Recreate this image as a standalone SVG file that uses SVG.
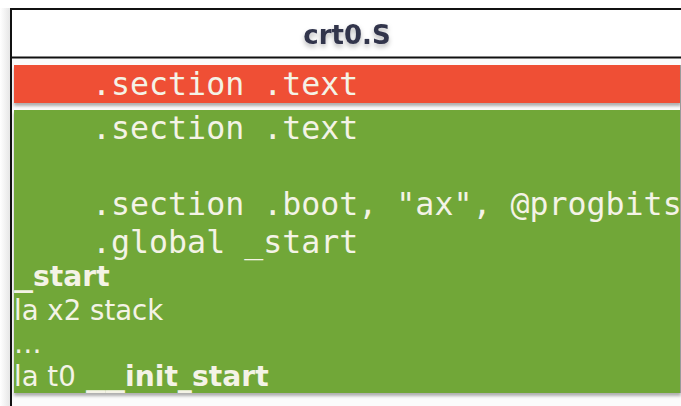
<svg xmlns="http://www.w3.org/2000/svg" width="681" height="406" viewBox="0 0 681 406">
  <defs>
    <filter id="soft" x="-20%" y="-40%" width="140%" height="200%">
      <feDropShadow dx="0" dy="3" stdDeviation="2.5" flood-color="#000" flood-opacity="0.28"/>
    </filter>
    <filter id="band" x="-5%" y="-20%" width="110%" height="160%">
      <feDropShadow dx="0" dy="3" stdDeviation="1.5" flood-color="#000" flood-opacity="0.3"/>
    </filter>
    <linearGradient id="outside" x1="0" y1="0" x2="1" y2="0">
      <stop offset="0" stop-color="#ffffff"/>
      <stop offset="1" stop-color="#e6e6e6"/>
    </linearGradient>
    <style>
      .frame { fill: none; stroke: #111; stroke-width: 2; }
      .title { font-family: "DejaVu Sans", Verdana, sans-serif; font-weight: bold; font-size: 26px; fill: #31344c; }
      .code { font-family: "DejaVu Sans Mono", "Liberation Mono", monospace; font-size: 31.6px; fill: #f4f3e6; }
      .plain { font-family: "DejaVu Sans", Verdana, sans-serif; font-size: 27.6px; fill: #f4f3e6; }
      .bold { font-weight: bold; font-size: 28.2px; }
    </style>
  </defs>

  <!-- page background and soft edge left of the frame -->
  <rect x="0" y="0" width="681" height="406" fill="#ffffff"/>
  <rect x="0" y="8" width="10" height="398" fill="url(#outside)"/>
  <rect x="11" y="9" width="670" height="397" fill="#fbfbfb"/>

  <!-- file header -->
  <g id="header">
    <rect x="11" y="9" width="670" height="48" fill="#ffffff"/>
    <text class="title" x="347" y="44" text-anchor="middle" filter="url(#soft)">crt0.S</text>
  </g>

  <!-- outer frame -->
  <g id="frame">
    <line class="frame" x1="11" y1="9" x2="681" y2="9"/>
    <line class="frame" x1="11" y1="57.5" x2="681" y2="57.5"/>
    <line class="frame" x1="11" y1="8" x2="11" y2="406"/>
  </g>

  <!-- section highlighted in red -->
  <g id="text-section">
    <rect x="14" y="65" width="667" height="38" fill="#ef5034" filter="url(#band)"/>
    <text class="code" x="92" y="95">.section .text</text>
  </g>

  <!-- boot section body -->
  <g id="boot-section">
    <rect x="14" y="110" width="667" height="283" fill="#71a737" filter="url(#band)"/>
    <text class="code" x="92" y="139">.section .text</text>
    <text class="code" x="92" y="215">.section .boot, "ax", @progbits</text>
    <text class="code" x="92" y="253">.global _start</text>
    <!-- label: wide underscore, then the name -->
    <text class="plain bold" transform="translate(14 286) scale(1.35 1)">_</text>
    <text class="plain bold" x="33" y="286">start</text>
    <text class="plain" x="14" y="320">la x2 stack</text>
    <text class="plain" x="14" y="353">…</text>
    <text class="plain" x="14" y="386">la t0 </text>
    <text class="plain bold" transform="translate(86 386) scale(1.38 1)">__</text>
    <text class="plain bold" x="125" y="386">init_start</text>
  </g>

  <!-- right edge of the bands -->
  <line x1="680.5" y1="65" x2="680.5" y2="393" stroke="#9a9a9a" stroke-width="1"/>
</svg>
